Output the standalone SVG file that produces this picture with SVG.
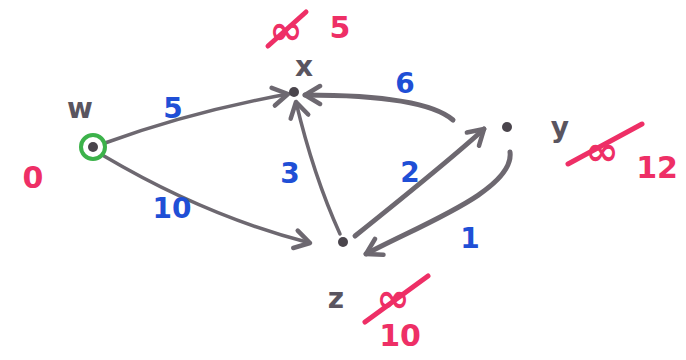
<svg xmlns="http://www.w3.org/2000/svg" width="686" height="360" viewBox="0 0 686 360">
<style>
.edge{fill:none;stroke:#6d6870;stroke-width:5;stroke-linecap:round;marker-end:url(#ah)}
.thin{stroke-width:3.5}
.dot{fill:#4a454c}
.lbl{font-family:"DejaVu Sans",sans-serif;fill:#5a5560;font-size:28px;font-weight:bold;text-anchor:middle}
.w{font-family:"DejaVu Sans",sans-serif;fill:#1f4fd6;font-size:28px;font-weight:bold;text-anchor:middle}
.d{font-family:"DejaVu Sans",sans-serif;fill:#ee2f66;font-size:30px;font-weight:bold;text-anchor:middle}
.inf{font-size:40px}
.strike{stroke:#ee2f66;stroke-width:5;stroke-linecap:round}
</style>
<defs>
<marker id="ah" viewBox="0 0 24 24" refX="20" refY="12" markerWidth="24" markerHeight="24" orient="auto" markerUnits="userSpaceOnUse">
<path d="M5,3 L20,12 L5,21" fill="none" stroke="#6d6870" stroke-width="4.5" stroke-linecap="round" stroke-linejoin="round"/>
</marker>
</defs>
<rect width="686" height="360" fill="#ffffff"/>
<g id="connectors">
<path class="edge thin" d="M105,143 Q190,112 288,94"/>
<path class="edge" d="M453,120 C430,100 370,95 305,95"/>
<path class="edge thin" d="M340,234 C320,190 305,140 296,102"/>
<path class="edge thin" d="M104,156 C170,195 240,225 310,243"/>
<path class="edge" d="M355,236 C400,200 450,160 484,129"/>
<path class="edge" d="M510,152 C515,190 420,225 366,254"/>
</g>
<g id="edge-labels">
<text class="w" x="173" y="118">5</text>
<text class="w" x="405" y="93">6</text>
<text class="w" x="290" y="183">3</text>
<text class="w" x="410" y="182">2</text>
<text class="w" x="172" y="218">10</text>
<text class="w" x="470" y="248">1</text>
</g>
<g id="node-w">
<circle cx="93" cy="147" r="12" fill="none" stroke="#3cb24a" stroke-width="4"/>
<circle class="dot" cx="93" cy="147" r="5"/>
<text class="lbl" x="80" y="118">w</text>
<text class="d" x="33" y="188" font-size="42">0</text>
</g>
<g id="node-x">
<circle class="dot" cx="294" cy="92" r="5"/>
<text class="lbl" x="304" y="76">x</text>
<text class="d inf" x="286" y="44">∞</text>
<line class="strike" x1="268" y1="46" x2="306" y2="12"/>
<text class="d" x="340" y="38">5</text>
</g>
<g id="node-y">
<circle class="dot" cx="507" cy="127" r="5"/>
<text class="lbl" x="560" y="137">y</text>
<text class="d inf" x="602" y="165">∞</text>
<line class="strike" x1="568" y1="164" x2="642" y2="124"/>
<text class="d" x="657" y="178">12</text>
</g>
<g id="node-z">
<circle class="dot" cx="343" cy="242" r="5"/>
<text class="lbl" x="336" y="308">z</text>
<text class="d inf" x="393" y="312">∞</text>
<line class="strike" x1="365" y1="322" x2="428" y2="276"/>
<text class="d" x="400" y="346" font-size="26">10</text>
</g>
</svg>
